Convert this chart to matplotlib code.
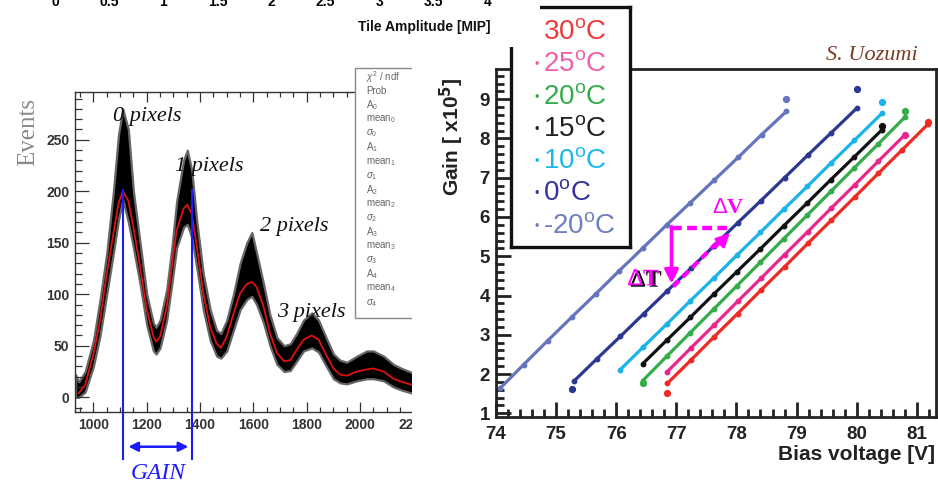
import matplotlib
matplotlib.use("Agg")
import matplotlib.pyplot as plt
import matplotlib.patheffects as pe
from matplotlib.patches import Rectangle
from matplotlib.lines import Line2D
from matplotlib.ticker import MultipleLocator, AutoMinorLocator

plt.rcParams['font.family'] = ['Liberation Sans', 'DejaVu Sans']
plt.rcParams['mathtext.fontset'] = 'custom'
plt.rcParams['mathtext.rm'] = 'Liberation Sans'
plt.rcParams['mathtext.it'] = 'Liberation Sans:italic'

W, H = 938, 480

# ---- left panel: pixel spectrum with multi-gaussian fit ----
fit_x = [945, 969, 1000, 1025, 1050, 1075, 1094, 1110, 1131, 1150,
         1175, 1200, 1225, 1235, 1250, 1275, 1294, 1312, 1338, 1352,
         1369, 1388, 1412, 1438, 1462, 1478, 1500, 1525, 1550, 1575,
         1594, 1612, 1638, 1662, 1688, 1715, 1738, 1762, 1788, 1819,
         1844, 1869, 1900, 1925, 1950, 1988, 2025, 2050, 2088, 2125,
         2156, 2195, 2225]
fit_y = [4, 12, 42, 75, 120, 159, 188, 200, 191, 165,
         127, 85, 59, 54, 59, 88, 127, 162, 183, 187,
         178, 146, 101, 68, 52, 48, 59, 81, 101, 110,
         112, 107, 88, 62, 43, 35, 36, 46, 56, 60,
         56, 43, 28, 22, 21, 25, 27, 28, 25, 18,
         15, 12, 10]
# envelope of the noisy histogram (same x as the fit, plus the left edge)
hist_x = [933] + fit_x
hist_lo = [0, 0, 5, 30, 60, 100, 140, 172, 192, 170, 145,
           110, 70, 45, 42, 48, 75, 110, 145, 165, 168,
           155, 125, 85, 55, 40, 38, 45, 65, 85, 95,
           98, 90, 72, 50, 32, 25, 26, 35, 45, 48,
           44, 32, 18, 14, 13, 16, 18, 18, 16, 10,
           7, 4, 2]
hist_hi = [22, 15, 25, 55, 95, 140, 200, 255, 280, 260, 200,
           150, 100, 72, 68, 75, 105, 145, 190, 230, 240,
           220, 170, 120, 85, 65, 62, 75, 100, 130, 150,
           160, 140, 110, 80, 58, 50, 52, 62, 75, 82,
           75, 60, 42, 36, 34, 40, 45, 45, 40, 32,
           28, 24, 22]
peak_labels = ["0 pixels", "1 pixels", "2 pixels", "3 pixels"]
gain_marks = [1110, 1369]
stat_rows = [r"$\chi^{2}$ / ndf", "Prob", r"A$_{0}$", r"mean$_{0}$", r"$\sigma_{0}$",
             r"A$_{1}$", r"mean$_{1}$", r"$\sigma_{1}$", r"A$_{2}$", r"mean$_{2}$",
             r"$\sigma_{2}$", r"A$_{3}$", r"mean$_{3}$", r"$\sigma_{3}$", r"A$_{4}$",
             r"mean$_{4}$", r"$\sigma_{4}$"]
top_ticks = [0, 0.5, 1, 1.5, 2, 2.5, 3, 3.5, 4]
top_ticklabels = ["0", "0.5", "1", "1.5", "2", "2.5", "3", "3.5", "4"]

# ---- right panel: gain vs bias voltage ----
v30 = [76.85, 77.24, 77.63, 78.02, 78.41, 78.80, 79.19, 79.58, 79.97, 80.36, 80.75, 81.19]
g30 = [1.76, 2.35, 2.95, 3.54, 4.14, 4.73, 5.33, 5.92, 6.51, 7.11, 7.70, 8.37]
v25 = [76.85, 77.24, 77.63, 78.02, 78.41, 78.80, 79.19, 79.58, 79.97, 80.36, 80.8]
g25 = [2.06, 2.66, 3.25, 3.85, 4.44, 5.04, 5.63, 6.23, 6.82, 7.42, 8.09]
v20 = [76.44, 76.84, 77.23, 77.62, 78.01, 78.40, 78.79, 79.18, 79.57, 79.96, 80.36, 80.8]
g20 = [1.83, 2.45, 3.05, 3.65, 4.25, 4.85, 5.45, 6.05, 6.65, 7.25, 7.86, 8.54]
v15 = [76.44, 76.84, 77.23, 77.62, 78.01, 78.40, 78.79, 79.18, 79.57, 79.96, 80.42]
g15 = [2.26, 2.86, 3.44, 4.03, 4.61, 5.19, 5.78, 6.36, 6.95, 7.53, 8.22]
v10 = [76.06, 76.45, 76.84, 77.23, 77.62, 78.01, 78.40, 78.79, 79.18, 79.57, 79.96, 80.42]
g10 = [2.10, 2.69, 3.27, 3.86, 4.44, 5.03, 5.61, 6.20, 6.78, 7.37, 7.95, 8.64]
v0 = [75.29, 75.68, 76.07, 76.46, 76.85, 77.24, 77.63, 78.02, 78.41, 78.80, 79.19, 79.58, 80.00]
g0 = [1.81, 2.39, 2.96, 3.54, 4.12, 4.69, 5.27, 5.85, 6.42, 7.00, 7.58, 8.15, 8.77]
vm20 = [74.07, 74.46, 74.86, 75.26, 75.66, 76.05, 76.45, 76.84, 77.23, 77.63, 78.03, 78.42, 78.83]
gm20 = [1.64, 2.24, 2.85, 3.45, 4.04, 4.63, 5.22, 5.80, 6.36, 6.94, 7.52, 8.10, 8.69]

# stray points off the fitted lines (ends of each scan)
extra_v = [[76.85, 81.19], [80.8], [76.44, 80.8], [80.42], [80.42], [75.26, 80.01], [78.83]]
extra_g = [[1.51, 8.43], [8.10], [1.78, 8.70], [8.32], [8.92], [1.62, 9.25], [9.00]]

temps = ["30", "25", "20", "15", "10", "0", "-20"]
line_colors = ["#ee2a24", "#e8268c", "#35ac4a", "#111111", "#1bb3ea", "#2b3790", "#6475bd"]
text_colors = ["#f03a3a", "#f060a8", "#35ac4a", "#222222", "#1bb8ee", "#33339a", "#6f7fbf"]
series_v = [v30, v25, v20, v15, v10, v0, vm20]
series_g = [g30, g25, g20, g15, g10, g0, gm20]


def fx(px):
    return px / W


def fy(py):
    return 1 - py / H


fig = plt.figure(figsize=(9.38, 4.8), dpi=100)

# left axes (its right part is hidden by the right picture)
axl = fig.add_axes([fx(75), fy(411.7), fx(470 - 75), (411.7 - 91.7) / H])
axl.set_zorder(0)
axl.fill_between(hist_x, hist_lo, hist_hi, facecolor="black",
                 edgecolor="#666666", lw=1.6)
axl.plot(fit_x, fit_y, color="#e01010", lw=1.3)
axl.set_xlim(931, 2412)
axl.set_ylim(-14, 296.7)
axl.xaxis.set_major_locator(MultipleLocator(200))
axl.xaxis.set_minor_locator(AutoMinorLocator(4))
axl.yaxis.set_major_locator(MultipleLocator(50))
axl.yaxis.set_minor_locator(AutoMinorLocator(5))
axl.tick_params(which="both", direction="in", top=True, right=False,
                colors="#333333", labelsize=10, width=0.9)
axl.tick_params(axis="y", which="major", length=10, pad=4)
axl.tick_params(axis="y", which="minor", length=5)
axl.tick_params(axis="x", which="major", length=7, pad=4.5)
axl.tick_params(axis="x", which="minor", length=3.5)
for lbl in axl.get_xticklabels() + axl.get_yticklabels():
    lbl.set_fontweight("bold")
for s in axl.spines.values():
    s.set_color("#333333")
    s.set_linewidth(1.0)

for gx in gain_marks:
    axl.plot([gx, gx], [201, -60], color="#1a1aff", lw=1.5, clip_on=False)
axl.annotate("", xy=(1131, -48), xytext=(1356, -48), annotation_clip=False,
             arrowprops=dict(arrowstyle="<|-|>", color="#1a1aff", lw=1.8,
                             mutation_scale=14, shrinkA=0, shrinkB=0))
axl.text(1244, -74, "GAIN", color="#1a1aff", family="Liberation Serif",
         style="italic", fontsize=17, ha="center", va="center", clip_on=False)

peak_pos = [(113, 117), (175, 167), (260, 227), (277, 313)]
for lab, (px, py) in zip(peak_labels, peak_pos):
    fig.text(fx(px), fy(py), lab, family="Liberation Serif", style="italic",
             fontsize=16, ha="left", va="center", color="#111111")

fig.text(fx(28), fy(132), "Events", family="Liberation Serif", fontsize=18,
         rotation=90, ha="center", va="center", color="#8a8a8a")

# fit statistics box
fig.patches.append(Rectangle((fx(355), fy(318)), fx(80), (318 - 68) / H,
                             transform=fig.transFigure, facecolor="white",
                             edgecolor="#888888", lw=1.0, zorder=0.4))
for i, row in enumerate(stat_rows):
    fig.text(fx(366), fy(77 + i * 14.1), row, fontsize=7, color="#666666",
             ha="left", va="center", zorder=0.45)

# white gap between the two pictures
fig.patches.append(Rectangle((fx(412), fy(475)), fx(84), 415 / H,
                             transform=fig.transFigure, facecolor="white",
                             edgecolor="none", zorder=0.5))

# right axes
axr = fig.add_axes([fx(496), fy(416.7), fx(440), (416.7 - 69) / H])
axr.set_zorder(1)
for v, g, ev, eg, c in zip(series_v, series_g, extra_v, extra_g, line_colors):
    axr.plot(v, g, color=c, lw=2.3, marker="o", ms=3.2, solid_capstyle="round")
    axr.plot(ev, eg, ls="none", marker="o", ms=4.2, color=c)
axr.set_xlim(74.0, 81.32)
axr.set_ylim(0.913, 9.77)
axr.xaxis.set_major_locator(MultipleLocator(1))
axr.xaxis.set_minor_locator(AutoMinorLocator(5))
axr.yaxis.set_major_locator(MultipleLocator(1))
axr.yaxis.set_minor_locator(AutoMinorLocator(5))
axr.tick_params(which="both", direction="in", width=2.0, labelsize=13.5,
                colors="#222222")
axr.tick_params(which="major", length=10.5)
axr.tick_params(which="minor", length=5.5)
axr.tick_params(axis="x", pad=7)
axr.tick_params(axis="y", pad=4.5)
for lbl in axr.get_xticklabels() + axr.get_yticklabels():
    lbl.set_fontweight("bold")
for s in axr.spines.values():
    s.set_linewidth(2.0)
    s.set_color("#222222")

# temperature shift annotation
mag = "#ff00ff"
axr.annotate("", xy=(76.92, 4.30), xytext=(76.92, 5.75),
             arrowprops=dict(arrowstyle="-|>", color=mag, lw=2.6,
                             mutation_scale=20, shrinkA=0, shrinkB=0))
axr.plot([76.92, 77.84], [5.71, 5.71], color=mag, lw=3.2, ls=(0, (2.2, 1.2)))
axr.plot([76.95, 77.70], [4.23, 5.38], color=mag, lw=3.0, ls=(0, (2.0, 1.2)))
axr.annotate("", xy=(77.89, 5.59), xytext=(77.66, 5.24),
             arrowprops=dict(arrowstyle="-|>", color=mag, lw=2.0,
                             mutation_scale=20, shrinkA=0, shrinkB=0))
axr.text(77.86, 6.23, r"$\Delta$V", color=mag, family="Liberation Serif",
         fontweight="bold", fontsize=16, ha="center", va="center")
axr.text(76.46, 4.40, r"$\Delta$T", color=mag, family="Liberation Serif",
         fontweight="bold", fontsize=17, ha="center", va="center",
         path_effects=[pe.withSimplePatchShadow(offset=(2, -1),
                                                shadow_rgbFace="black",
                                                alpha=1.0)])

fig.text(fx(452), fy(137), r"Gain [ x10$^{\mathbf{5}}$]", rotation=90,
         fontsize=15, fontweight="bold", ha="center", va="center", color="#222222")
fig.text(fx(935), fy(455), "Bias voltage [V]", fontsize=15, fontweight="bold",
         ha="right", va="center", color="#222222")
fig.text(fx(872), fy(55), "S. Uozumi", family="Liberation Serif", style="italic",
         fontsize=16, color="#7b3b28", ha="center", va="center")

# legend box (upper left corner hidden behind the left picture)
fig.patches.append(Rectangle((fx(511), fy(247)), fx(119), 240 / H,
                             transform=fig.transFigure, facecolor="white",
                             edgecolor="none", zorder=2))
for xs, ys in [([541, 630], [7, 7]), ([630, 630], [7, 247]),
               ([511, 630], [247, 247]), ([511, 511], [48, 247])]:
    fig.lines.append(Line2D([fx(x) for x in xs], [fy(y) for y in ys],
                            transform=fig.transFigure, color="#111111",
                            lw=2.4, zorder=2.1, solid_capstyle="projecting"))
for i, (t, c) in enumerate(zip(temps, text_colors)):
    yy = 32 + i * 32.3
    if i > 0:
        fig.text(fx(537), fy(yy + 1), "•", color=c, fontsize=9, ha="center",
                 va="center", zorder=3)
    fig.text(fx(543), fy(yy), t + r"$^{\mathrm{o}}$C", color=c, fontsize=20,
             ha="left", va="center", zorder=3)

# white strip of the left picture over the legend corner
fig.patches.append(Rectangle((0, fy(47)), fx(540), 47 / H,
                             transform=fig.transFigure, facecolor="white",
                             edgecolor="none", zorder=2.5))
fig.text(fx(490), fy(27), "Tile Amplitude [MIP]", fontsize=10, fontweight="bold",
         ha="right", va="center", color="#111111", zorder=3)

# cut-off tick labels of the picture above
axt = fig.add_axes([fx(55), 1 + 5 / H, fx(433), 0.01])
axt.set_zorder(3)
axt.set_xlim(0, 4)
axt.set_xticks(top_ticks)
axt.set_xticklabels(top_ticklabels, fontweight="bold", fontsize=10)
axt.set_yticks([])
axt.tick_params(axis="x", length=0, pad=0)
for s in axt.spines.values():
    s.set_visible(False)
axt.patch.set_visible(False)

fig.savefig("out.png", dpi=100)
